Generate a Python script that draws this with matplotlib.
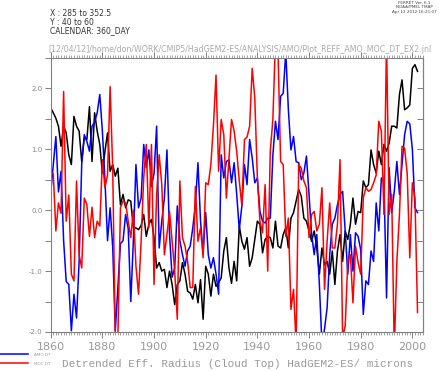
import matplotlib
matplotlib.use("Agg")
import matplotlib.pyplot as plt
from matplotlib.lines import Line2D
from matplotlib.ticker import MultipleLocator
import numpy as np

# annual values 1860..2002
years = np.arange(1860, 2003)

eff_radius = [
    1.68, 1.60, 1.51, 1.38, 1.05, 1.38, 1.27, 0.91, 0.75, 1.54,
    1.38, 1.30, 0.80, 1.19, 1.16, 1.70, 0.80, 1.60, 1.30, 1.08,
    0.61, 0.97, 1.27, 0.64, 0.75, 0.56, 0.69, 0.09, 0.26, 0.04,
    0.17, 0.15, -0.29, -0.29, -0.32, -0.25, -0.07, -0.43, -0.23, -0.15,
    -0.45, -0.95, -0.86, -1.00, -0.97, -1.27, -1.00, -1.22, -1.55, -1.22,
    -1.16, -0.86, -1.05, -1.33, -1.36, -1.46, -1.22, -1.52, -1.14, -1.79,
    -0.92, -1.05, -1.41, -1.05, -1.25, -1.19, -1.11, -0.67, -0.45, -0.95,
    -1.20, -0.84, -1.16, -0.26, -0.51, -0.64, -0.45, -0.92, -0.78, -0.48,
    -0.18, -0.23, -0.70, -0.48, -0.43, -0.45, -0.62, -0.18, -0.59, -0.62,
    -0.40, -0.29, -0.62, -0.13, -0.04, 0.15, 0.34, 0.23, -0.13, -0.18,
    -0.34, -0.51, -0.34, -0.62, -1.05, -0.62, -0.90, -0.84, -1.05, -0.67,
    -1.22, -0.67, -0.40, -0.84, -0.34, -0.48, -0.23, 0.20, -0.23, -0.02,
    -0.04, 0.48, 0.37, 0.42, 0.99, 0.75, 0.61, 0.97, 0.75, 1.08,
    0.97, 1.10, 1.38, 1.38, 1.35, 1.90, 2.14, 1.65, 1.68, 1.73,
    2.33, 2.39, 2.28,
]

amo_dt = [
    0.28, 0.75, 1.21, 0.30, 0.64, -0.50, -1.17, -1.22, -1.98, -1.38,
    -1.77, -0.84, 0.75, 1.24, 1.13, 0.97, 1.38, 1.45, 1.60, 1.90,
    1.30, 0.50, -0.50, 0.04, -0.60, -1.98, -1.27, -0.55, -0.50, -0.07,
    -0.30, -1.50, -0.50, 0.75, 0.04, 0.20, 1.08, 0.70, 0.99, 0.39,
    0.60, 1.38, -0.62, -0.18, 0.20, 0.99, -0.40, -1.10, -0.95, 0.07,
    -0.50, -0.73, -0.92, -0.67, -0.59, -0.29, 0.09, 0.78, -0.18, -0.70,
    -0.04, -0.73, -0.95, -0.78, -1.05, -1.38, 0.91, 0.53, 0.80, 0.83,
    0.45, 0.78, 0.26, -0.32, 0.07, 0.75, 0.42, 1.16, 0.86, 0.45,
    0.53, -0.02, -0.18, -0.21, -0.13, -0.13, 0.90, 1.46, 1.16, 1.87,
    1.92, 2.60, 1.65, 0.99, 1.21, 0.80, 0.78, 0.50, 0.61, 0.89,
    0.26, -0.40, -0.73, -0.40, -1.22, -2.20, -1.95, -1.60, -0.73, -0.23,
    -0.13, 0.09, 0.26, 0.31, -0.34, -1.05, -0.40, -1.00, -0.37, -0.43,
    -0.65, -1.71, -1.16, -1.22, -0.67, -0.84, 0.12, -0.34, 0.53, 0.48,
    -1.44, 0.70, -0.04, 0.31, 0.80, 0.26, 0.75, 1.24, 1.46, 1.42,
    1.00, 0.04, -0.04,
]

moc_dt = [
    0.62, 0.60, -0.34, 0.12, -0.05, 1.95, -0.18, 0.25, -1.05, -1.16,
    0.48, -0.73, -0.95, 0.20, 0.09, -0.43, 0.05, -0.45, -0.18, -0.26,
    0.83, 0.37, 0.58, 2.03, 0.69, -2.10, -2.10, 0.04, 0.15, 0.12,
    -0.18, -0.45, 0.00, -0.92, -1.38, -0.51, 0.53, 1.08, -0.29, 1.08,
    -1.22, 0.26, 0.91, 0.42, -0.73, -0.40, -0.02, -0.50, -1.00, -1.79,
    0.48, -0.45, -0.59, -0.84, -1.27, -1.27, 0.39, -0.51, -0.29, -0.78,
    0.45, 0.42, 0.75, 1.40, 2.22, 0.64, 1.49, 1.24, 0.20, 0.85,
    1.49, 1.30, 0.97, 0.48, 0.07, 1.16, 1.20, 1.38, 2.33, 1.84,
    0.53, -0.18, -0.37, 0.42, -1.00, 0.97, 1.49, 2.80, 2.60, 0.80,
    0.75, -0.43, -0.13, -1.63, -1.30, -2.20, 0.75, 0.69, 0.48, 0.37,
    -0.45, -0.07, -0.02, -0.34, -0.23, 0.37, -1.30, -0.51, 0.12, -0.62,
    -0.62, -0.23, 0.83, -2.10, -1.90, -0.84, -0.73, -1.52, -0.59, -0.86,
    -1.05, 0.20, 0.37, 0.31, 0.34, 0.45, 0.58, 1.46, 1.30, -0.07,
    2.80, -0.07, 0.26, -2.30, -0.84, -0.07, 1.05, 1.02, 0.60, -0.78,
    0.45, 0.20, -1.68,
]

xtick_years = [1860, 1880, 1900, 1920, 1940, 1960, 1980, 2000]
ytick_vals = [-2.0, -1.0, 0.0, 1.0, 2.0]

grey = "#808080"

fig = plt.figure(figsize=(4.48, 3.71), dpi=100)
ax = fig.add_axes([50.7 / 448, 1 - 332 / 371, 372 / 448, 274 / 371])

ax.plot(years, eff_radius, color="black", lw=1.1)
ax.plot(years, amo_dt, color="#0000ff", lw=1.1)
ax.plot(years, moc_dt, color="#ff0000", lw=1.1)

ax.set_xlim(1860, 2004)
ax.set_ylim(-2.0, 2.5)

ax.set_xticks(xtick_years)
ax.set_xticklabels([str(y) for y in xtick_years])
ax.xaxis.set_minor_locator(MultipleLocator(1))
ax.set_yticks(ytick_vals)
ax.set_yticklabels(["%.1f" % v for v in ytick_vals])
ax.yaxis.set_minor_locator(MultipleLocator(0.5))

ax.tick_params(axis="x", which="both", top=True, direction="out", colors=grey,
               labelsize=8, labelcolor="#999999", pad=3)
ax.tick_params(axis="x", which="major", length=4, width=0.7)
ax.tick_params(axis="x", which="minor", length=2, width=0.5)
ax.tick_params(axis="y", which="both", direction="out", colors=grey,
               labelsize=5, labelcolor="#888888", pad=2)
ax.tick_params(axis="y", which="major", length=4, width=0.7)
ax.tick_params(axis="y", which="minor", length=4, width=0.7)

# inward ticks on the right frame
right = ax.secondary_yaxis("right")
right.yaxis.set_major_locator(MultipleLocator(0.5))
right.tick_params(direction="in", length=4, width=0.7, colors=grey, labelright=False)
right.spines["right"].set_color(grey)

for s in ax.spines.values():
    s.set_color(grey)
    s.set_linewidth(0.8)

# header
hdr = dict(fontsize=5.5, color="#333333", family="DejaVu Sans")
fig.text(50 / 448, 1 - 14 / 371, "X : 285 to 352.5", va="center", **hdr)
fig.text(50 / 448, 1 - 22.5 / 371, "Y : 40 to 60", va="center", **hdr)
fig.text(50 / 448, 1 - 31 / 371, "CALENDAR: 360_DAY", va="center", **hdr)

stamp = dict(fontsize=3, color="#444444", ha="center", va="center")
fig.text(414 / 448, 1 - 3 / 371, "FERRET Ver. 6.1", **stamp)
fig.text(414 / 448, 1 - 7.5 / 371, "NOAA/PMEL TMAP", **stamp)
fig.text(414 / 448, 1 - 12 / 371, "Apr 12 2012 16:21:07", **stamp)

fig.text(48 / 448, 1 - 49 / 371,
         "[12/04/12]/home/don/WORK/CMIP5/HadGEM2-ES/ANALYSIS/AMO/Plot_REFF_AMO_MOC_DT_EX2.jnl",
         fontsize=5.7, color="#aaaaaa", va="center")

# key at bottom
fig.add_artist(Line2D([0, 28 / 448], [1 - 353.5 / 371] * 2, color="#0000ff", lw=1.1))
fig.add_artist(Line2D([0, 28 / 448], [1 - 362.5 / 371] * 2, color="#ff0000", lw=1.1))
fig.text(34 / 448, 1 - 355 / 371, "AMO DT", fontsize=3, color="#999999", va="center")
fig.text(34 / 448, 1 - 364 / 371, "MOC DT", fontsize=3, color="#999999", va="center")
fig.text(62 / 448, 1 - 364 / 371, "Detrended Eff. Radius (Cloud Top) HadGEM2-ES/ microns",
         fontsize=7.9, color="#999999", va="center", family="Liberation Mono")

fig.savefig("out.png", dpi=100)
